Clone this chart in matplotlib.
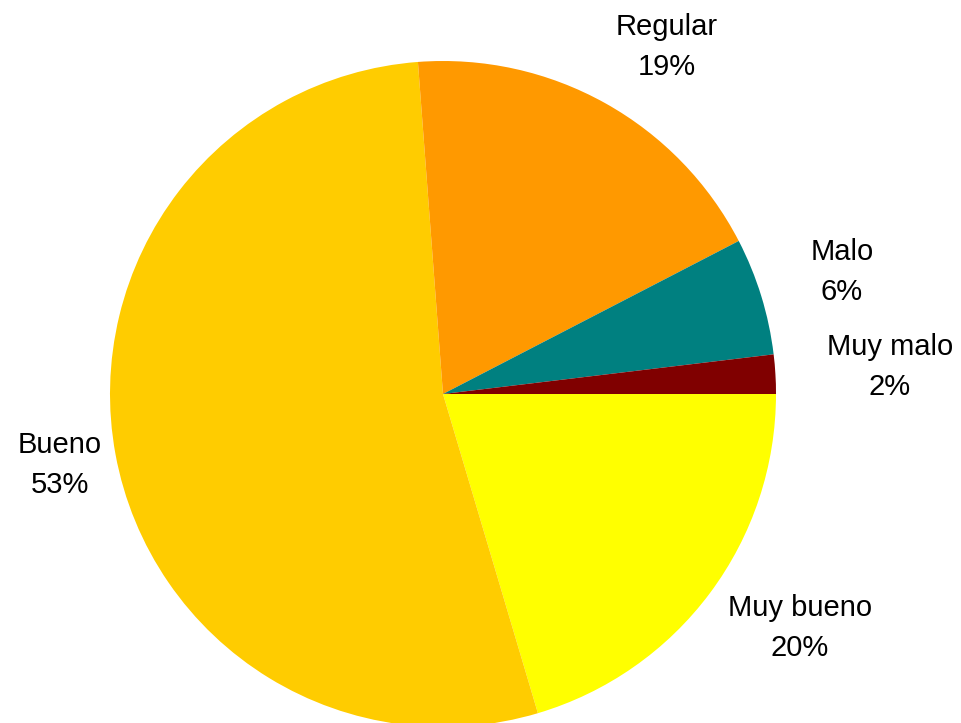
import matplotlib.pyplot as plt

# Data
categories = ["Muy bueno", "Bueno", "Regular", "Malo", "Muy malo"]
values = [20.4, 53.4, 18.6, 5.7, 1.9]
colors = ["#FFFF00", "#FFCC00", "#FF9900", "#008080", "#800000"]

# label placement (in pie radius units), layout only
label_pos = [(1.072, -0.703), (-1.15, -0.213), (0.673, 1.042), (1.198, 0.366), (1.342, 0.081)]

plt.rcParams['font.family'] = ['Liberation Sans', 'DejaVu Sans']

fig = plt.figure(figsize=(9.61, 7.23), dpi=100)
ax = fig.add_axes([0, 0, 1, 1])

ax.pie(values, colors=colors, startangle=0, counterclock=False, radius=1,
       wedgeprops=dict(linewidth=0))

total = sum(values)
for name, v, (x, y) in zip(categories, values, label_pos):
    pct = round(v / total * 100)
    ax.text(x, y, f"{name}\n{pct}%", ha='center', va='center',
            fontsize=21, linespacing=1.55)

# centre at (443, 394) px, radius 333 px
ax.set_xlim(-443 / 333, (961 - 443) / 333)
ax.set_ylim(-(723 - 394) / 333, 394 / 333)
ax.set_aspect('auto')
ax.axis('off')

fig.savefig("out.png", dpi=100)
